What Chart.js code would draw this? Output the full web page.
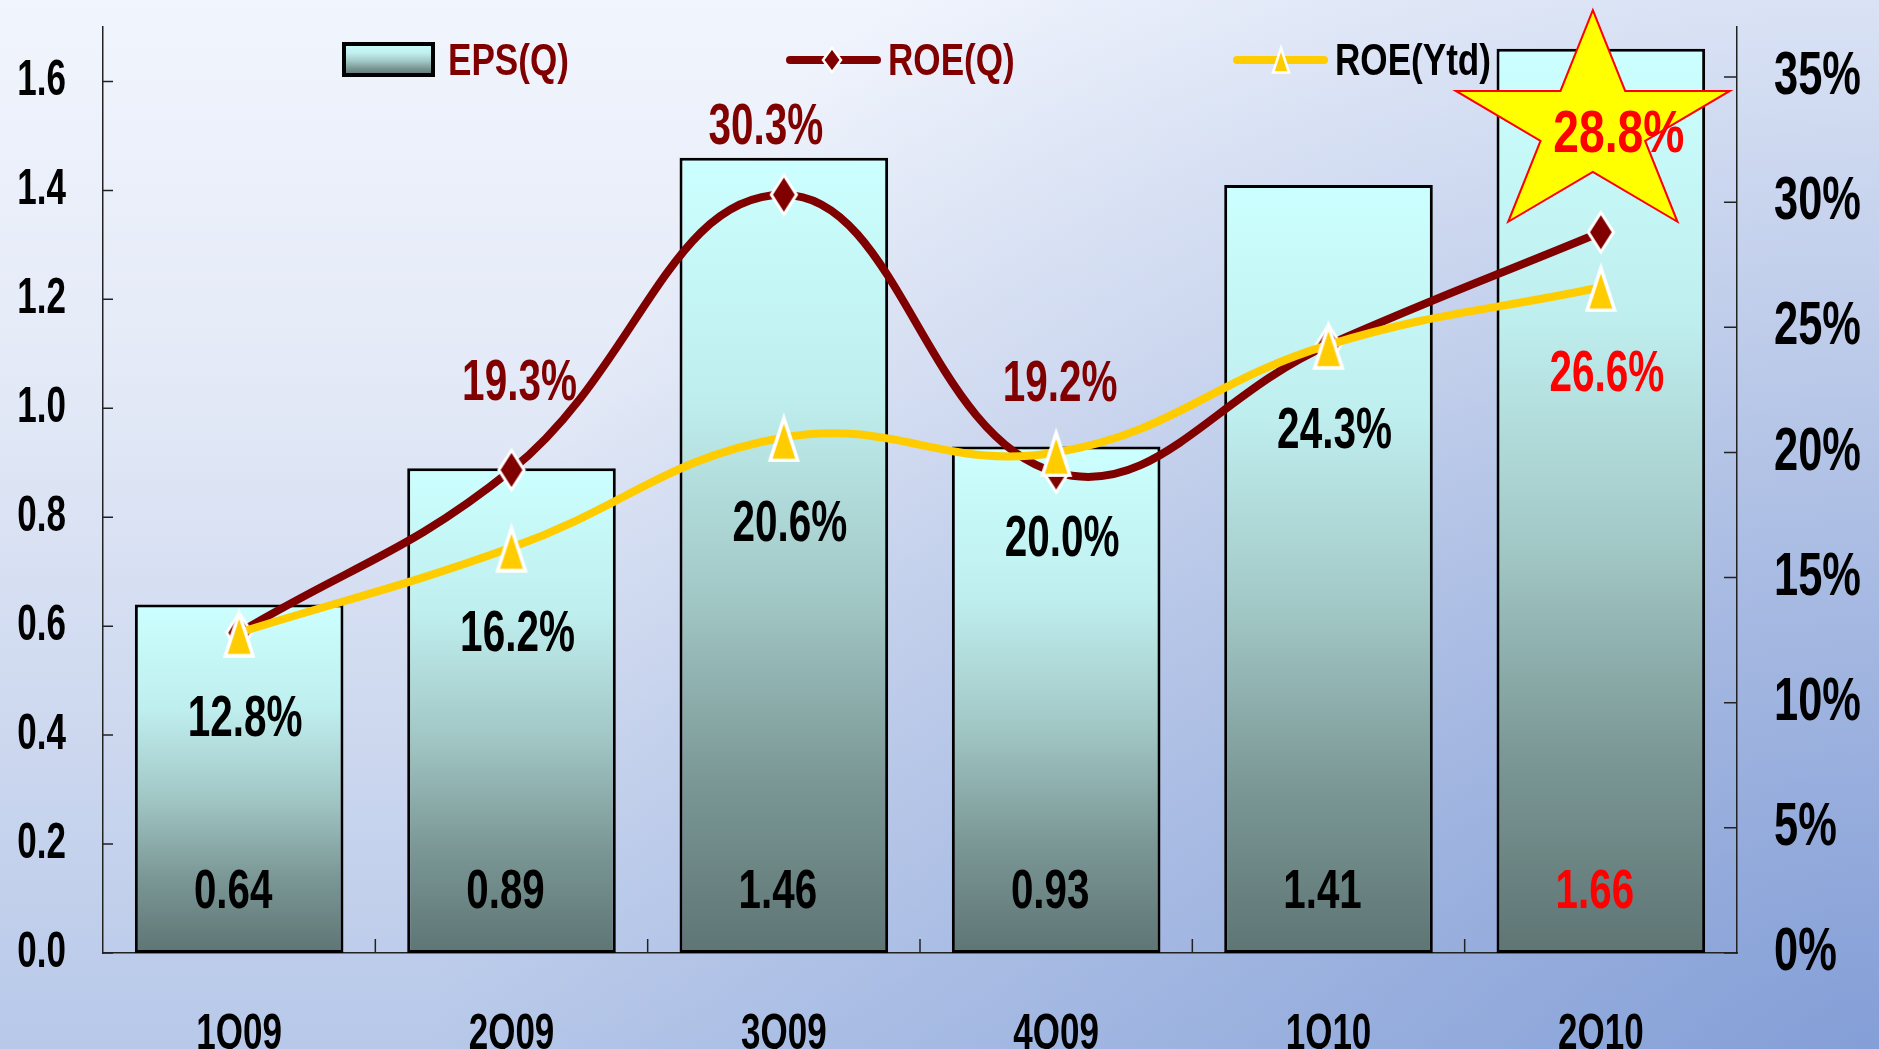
<!DOCTYPE html>
<html>
<head>
<meta charset="utf-8">
<script src="https://cdn.jsdelivr.net/npm/chart.js@4.4.1/dist/chart.umd.min.js"></script>
<style>
html,body{margin:0;padding:0;overflow:hidden;background:#ffffff}
canvas{display:block}
</style>
</head>
<body>
<canvas id="c" width="1879" height="1049"></canvas>
<script>
// ---------------- data ----------------
const categories = ['1Q09', '2Q09', '3Q09', '4Q09', '1Q10', '2Q10'];
const epsQ = [0.64, 0.89, 1.46, 0.93, 1.41, 1.66];
const roeQ = [12.8, 19.3, 30.3, 19.2, 24.3, 28.8];
const roeYtd = [12.8, 16.2, 20.6, 20.0, 24.3, 26.6];
const seriesNames = ['EPS(Q)', 'ROE(Q)', 'ROE(Ytd)'];
const leftTicks = [0, 0.2, 0.4, 0.6, 0.8, 1.0, 1.2, 1.4, 1.6];
const rightTicks = [0, 5, 10, 15, 20, 25, 30, 35];
const highlightIndex = 5;

// ---------------- style ----------------
const FAMILY = "'Liberation Sans', Arial, Helvetica, sans-serif";
const COL = { darkRed: '#800000', red: '#ff0000', yellow: '#ffcc00', black: '#000000', axis: '#222222' };
const COND = 0.70; // horizontal condensing of text
const roeQLabelNudge = { dx: [0, 8, -18, 4, 0, 18], dy: [0, -90, -71, -92, 0, -102] };

const canvas = document.getElementById('c');
const c2d = canvas.getContext('2d');
const origFill = c2d.fillText;
c2d.fillText = function (t, x, y, mw) {
  if (mw === undefined || mw === null) mw = this.measureText(t).width * COND;
  return origFill.call(this, t, x, y, mw);
};

function barGradient(g, top, bottom) {
  const gr = g.createLinearGradient(0, top, 0, bottom);
  gr.addColorStop(0, '#ccffff');
  gr.addColorStop(0.3, '#bfeeee');
  gr.addColorStop(0.55, '#a2c8c6');
  gr.addColorStop(0.78, '#7b9896');
  gr.addColorStop(1, '#5e7574');
  return gr;
}

function makeDiamond(w, h, fill, stroke, lw) {
  const c = document.createElement('canvas');
  c.width = w; c.height = h;
  const g = c.getContext('2d');
  g.beginPath();
  g.moveTo(w / 2, lw * 1.1);
  g.lineTo(w - lw * 0.8, h / 2);
  g.lineTo(w / 2, h - lw * 1.1);
  g.lineTo(lw * 0.8, h / 2);
  g.closePath();
  g.fillStyle = fill; g.fill();
  g.lineWidth = lw; g.strokeStyle = stroke; g.lineJoin = 'miter'; g.miterLimit = 4; g.stroke();
  return c;
}
function makeTriangle(w, h, fill, stroke, lw) {
  const c = document.createElement('canvas');
  c.width = w; c.height = h;
  const g = c.getContext('2d');
  g.beginPath();
  g.moveTo(w / 2, lw * 1.6);
  g.lineTo(w - lw * 1.2, h - lw * 0.6);
  g.lineTo(lw * 1.2, h - lw * 0.6);
  g.closePath();
  g.fillStyle = fill; g.fill();
  g.lineWidth = lw; g.strokeStyle = stroke; g.lineJoin = 'miter'; g.miterLimit = 6; g.stroke();
  return c;
}
const diamondImg = makeDiamond(30, 46, COL.darkRed, '#ffffff', 3);
const triImg = makeTriangle(36, 50, COL.yellow, '#ffffff', 3.5);
const diamondSmall = makeDiamond(22, 30, COL.darkRed, '#ffffff', 2.5);
const triSmall = makeTriangle(22, 30, COL.yellow, '#ffffff', 2.5);

function drawText(g, text, x, cy, size, color, cond, align) {
  g.save();
  g.font = 'bold ' + size + 'px ' + FAMILY;
  g.fillStyle = color;
  g.textAlign = align || 'center';
  g.textBaseline = 'alphabetic';
  const w = g.measureText(text).width;
  g.fillText(text, x, cy + size * 0.358, w * cond);
  g.restore();
}

// ---------------- plugins ----------------
const bgPlugin = {
  id: 'bg',
  beforeDraw(chart) {
    const g = chart.ctx, W = chart.width, H = chart.height;
    g.save();
    const v = g.createLinearGradient(0, 0, 0, H);
    v.addColorStop(0, '#f1f5fd');
    v.addColorStop(0.35, '#e4eaf7');
    v.addColorStop(0.7, '#cdd8ef');
    v.addColorStop(1, '#b7c8e9');
    g.fillStyle = v; g.fillRect(0, 0, W, H);
    const r = g.createRadialGradient(W, H, 0, W, H, 1450);
    r.addColorStop(0, 'rgba(90,125,200,0.55)');
    r.addColorStop(0.5, 'rgba(90,125,200,0.28)');
    r.addColorStop(1, 'rgba(90,125,200,0)');
    g.fillStyle = r; g.fillRect(0, 0, W, H);
    g.restore();
  }
};

const innerTicksPlugin = {
  id: 'innerTicks',
  beforeDatasetsDraw(chart) {
    const g = chart.ctx, a = chart.chartArea, s = chart.scales;
    g.save();
    g.strokeStyle = COL.axis; g.lineWidth = 1.5;
    g.beginPath();
    s.y.ticks.forEach((t, i) => {
      const py = s.y.getPixelForTick(i);
      g.moveTo(a.left, py); g.lineTo(a.left + 10, py);
    });
    s.y1.ticks.forEach((t, i) => {
      const py = s.y1.getPixelForTick(i);
      g.moveTo(a.right - 13, py); g.lineTo(a.right, py);
    });
    for (let i = 1; i < categories.length; i++) {
      const px = (s.x.getPixelForTick(i - 1) + s.x.getPixelForTick(i)) / 2;
      g.moveTo(px, a.bottom); g.lineTo(px, a.bottom - 14);
    }
    g.stroke();
    g.restore();
  }
};

const overlayPlugin = {
  id: 'overlay',
  afterDatasetsDraw(chart) {
    const g = chart.ctx, s = chart.scales;
    const mBar = chart.getDatasetMeta(0), mQ = chart.getDatasetMeta(1), mY = chart.getDatasetMeta(2);

    // star highlight on the latest quarter
    const sx = mQ.data[highlightIndex].x - 8;
    const sy = s.y1.getPixelForValue(33.0);
    const Rx = 144, Ry = 117, ratio = 0.382;
    g.save();
    g.beginPath();
    for (let k = 0; k < 10; k++) {
      const ang = (-90 + k * 36) * Math.PI / 180;
      const rr = k % 2 ? ratio : 1;
      const px = sx + Rx * rr * Math.cos(ang), py = sy + Ry * rr * Math.sin(ang);
      if (k === 0) g.moveTo(px, py); else g.lineTo(px, py);
    }
    g.closePath();
    g.fillStyle = '#ffff00'; g.fill();
    g.strokeStyle = '#ff0000'; g.lineWidth = 2; g.lineJoin = 'miter'; g.stroke();
    g.restore();

    // bar value labels
    const base = s.y.getPixelForValue(0);
    epsQ.forEach((v, i) => {
      const el = mBar.data[i];
      drawText(g, v.toFixed(2), el.x - 6, base - 65, 56, i === highlightIndex ? COL.red : COL.black, 0.72);
    });
    // ROE(Ytd) labels below points
    roeYtd.forEach((v, i) => {
      const p = mY.data[i];
      drawText(g, v.toFixed(1) + '%', p.x + 6, p.y + 83, 57, i === highlightIndex ? COL.red : COL.black, 0.71);
    });
    // ROE(Q) labels above points (only where they differ from Ytd)
    roeQ.forEach((v, i) => {
      if (v === roeYtd[i]) return;
      const p = mQ.data[i];
      const hi = i === highlightIndex;
      drawText(g, v.toFixed(1) + '%', p.x + roeQLabelNudge.dx[i], p.y + roeQLabelNudge.dy[i],
        hi ? 60 : 57, hi ? COL.red : COL.darkRed, hi ? 0.77 : 0.71);
    });

    // legend
    const ly = 59;
    g.save();
    g.fillStyle = barGradient(g, 44, 75);
    g.fillRect(344, 44, 89, 31);
    g.lineWidth = 4; g.strokeStyle = '#000'; g.strokeRect(344, 44, 89, 31);
    g.restore();
    drawText(g, seriesNames[0], 448, ly, 45, COL.darkRed, 0.78, 'left');

    g.save();
    g.lineCap = 'round'; g.lineWidth = 8;
    g.strokeStyle = COL.darkRed;
    g.beginPath(); g.moveTo(790, ly + 1); g.lineTo(877, ly + 1); g.stroke();
    g.drawImage(diamondSmall, 832 - 11, ly + 1 - 15);
    g.strokeStyle = COL.yellow;
    g.beginPath(); g.moveTo(1237, ly + 1); g.lineTo(1324, ly + 1); g.stroke();
    g.drawImage(triSmall, 1281 - 11, ly + 1 - 16);
    g.restore();
    drawText(g, seriesNames[1], 888, ly, 45, COL.darkRed, 0.78, 'left');
    drawText(g, seriesNames[2], 1335, ly, 45, COL.black, 0.78, 'left');
  }
};

// ---------------- chart ----------------
const tickFont = (size) => ({ family: FAMILY, size: size, weight: 'bold' });
const noPad = (sc) => { sc.paddingTop = 0; sc.paddingBottom = 0; sc.paddingLeft = 0; sc.paddingRight = 0; };

new Chart(c2d, {
  data: {
    labels: categories,
    datasets: [
      {
        type: 'bar', label: seriesNames[0], data: epsQ, yAxisID: 'y', order: 3,
        backgroundColor: (ctx) => {
          const chart = ctx.chart;
          if (!chart.chartArea || ctx.type !== 'data') return '#a2c8c6';
          const y = chart.scales.y;
          return barGradient(chart.ctx, y.getPixelForValue(ctx.parsed.y), y.getPixelForValue(0));
        },
        borderColor: '#000000', borderWidth: 3, borderSkipped: false,
        barPercentage: 0.766, categoryPercentage: 1
      },
      {
        type: 'line', label: seriesNames[1], data: roeQ, yAxisID: 'y1', order: 2,
        borderColor: COL.darkRed, borderWidth: 8, tension: 0.42, fill: false,
        borderCapStyle: 'round', borderJoinStyle: 'round',
        pointStyle: diamondImg, pointRadius: 12, pointHoverRadius: 12
      },
      {
        type: 'line', label: seriesNames[2], data: roeYtd, yAxisID: 'y1', order: 1,
        borderColor: COL.yellow, borderWidth: 8, tension: 0.42, fill: false,
        borderCapStyle: 'round', borderJoinStyle: 'round',
        pointStyle: triImg, pointRadius: 12, pointHoverRadius: 12
      }
    ]
  },
  options: {
    responsive: false, animation: false, devicePixelRatio: 1,
    layout: { padding: { top: 27, left: 0, right: 0, bottom: 0 } },
    plugins: { legend: { display: false }, tooltip: { enabled: false } },
    scales: {
      x: {
        offset: true,
        grid: { display: false },
        border: { display: true, color: COL.axis, width: 1.5 },
        ticks: { font: tickFont(50), color: '#000', padding: 44, maxRotation: 0, autoSkip: false },
        afterFit: (sc) => { sc.height = 96; noPad(sc); }
      },
      y: {
        position: 'left', min: 0, max: 1.7,
        grid: { display: false },
        border: { display: true, color: COL.axis, width: 1.5 },
        ticks: { font: tickFont(50), color: '#000', padding: 29, callback: (v) => Number(v).toFixed(1) },
        afterBuildTicks: (sc) => { sc.ticks = leftTicks.map(v => ({ value: v })); },
        afterFit: (sc) => { sc.width = 103; noPad(sc); }
      },
      y1: {
        position: 'right', min: 0, max: 37,
        grid: { display: false },
        border: { display: true, color: COL.axis, width: 1.5 },
        ticks: { font: tickFont(62), color: '#000', padding: 29, callback: (v) => v + '%' },
        afterBuildTicks: (sc) => { sc.ticks = rightTicks.map(v => ({ value: v })); },
        afterFit: (sc) => { sc.width = 142; noPad(sc); }
      }
    }
  },
  plugins: [bgPlugin, innerTicksPlugin, overlayPlugin]
});
</script>
</body>
</html>
